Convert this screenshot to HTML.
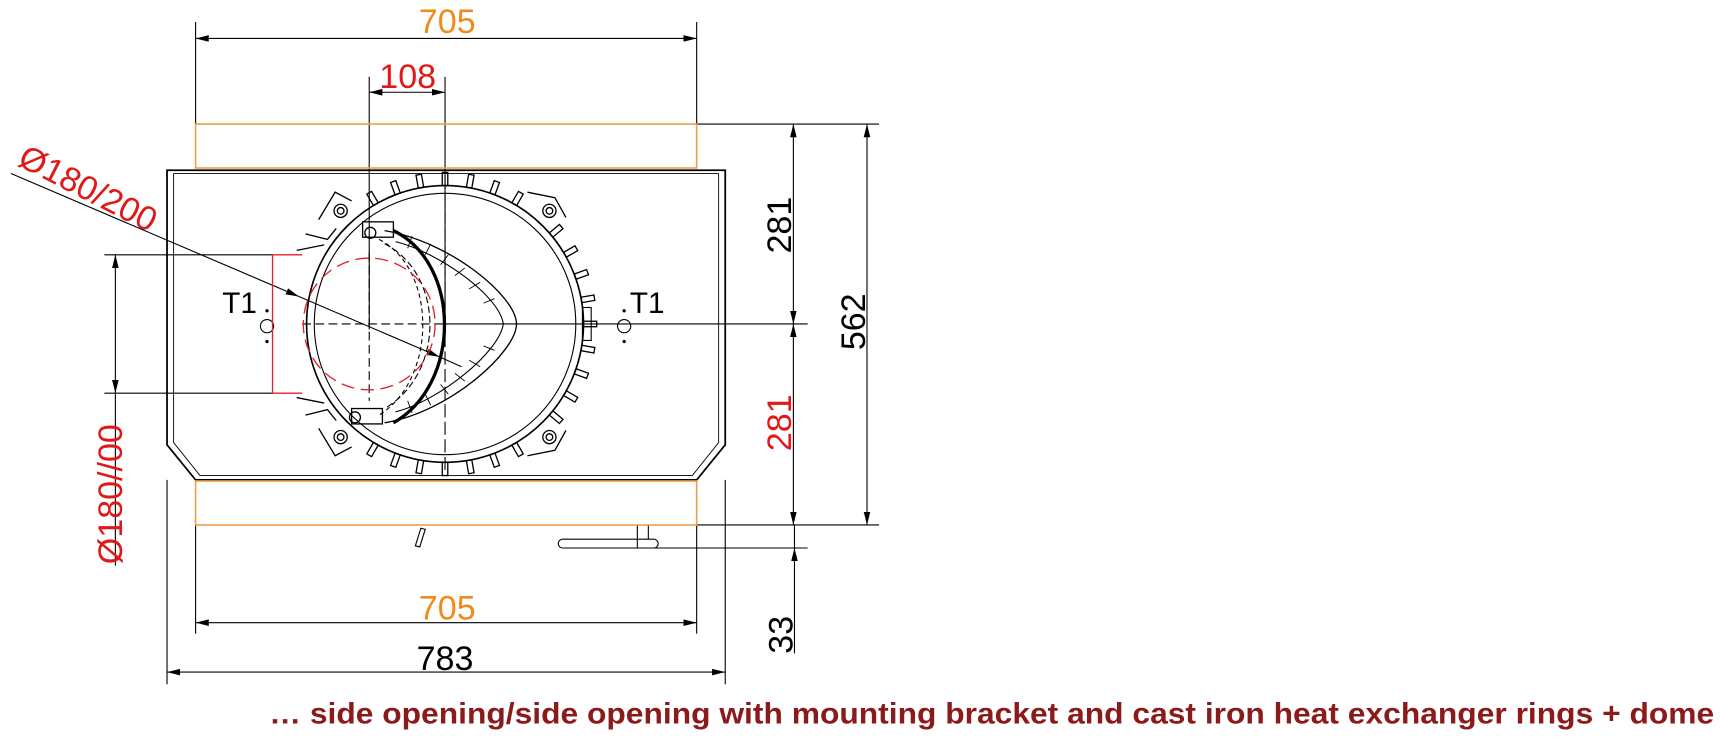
<!DOCTYPE html>
<html><head><meta charset="utf-8"><style>
html,body{margin:0;padding:0;background:#fff;}
svg{display:block;}
text{font-family:"Liberation Sans",Arial,sans-serif;}
</style></head><body>
<svg width="1723" height="738" viewBox="0 0 1568 672" preserveAspectRatio="none" xmlns="http://www.w3.org/2000/svg">
<defs>
<marker id="a" viewBox="0 0 12 6" refX="12" refY="3" markerWidth="12" markerHeight="6" orient="auto-start-reverse" markerUnits="userSpaceOnUse"><path d="M0,0 L12,3 L0,6z" fill="#000"/></marker>
</defs>
<g fill="none" stroke="#000" stroke-width="1">
<line x1="178" y1="20" x2="178" y2="113"/><line x1="634" y1="20" x2="634" y2="113"/>
<line x1="178" y1="35" x2="634" y2="35" marker-start="url(#a)" marker-end="url(#a)"/>
<line x1="336" y1="70" x2="336" y2="300"/>
<line x1="405" y1="70" x2="405" y2="300"/>
<line x1="336" y1="84" x2="405" y2="84" marker-start="url(#a)" marker-end="url(#a)"/>
<path d="M152 155 L660 155 L660 405 L634 437 L178 437 L152 405 Z" stroke-width="1.6"/>
<path d="M158 158 L654 158 L654 403 L630 433 L182 433 L158 403 Z" stroke-width="0.8"/>
<line x1="634" y1="113" x2="800" y2="113"/>
<line x1="722" y1="113" x2="722" y2="295" marker-start="url(#a)" marker-end="url(#a)"/>
<line x1="722" y1="295" x2="722" y2="478" marker-start="url(#a)" marker-end="url(#a)"/>
<line x1="789" y1="113" x2="789" y2="478" marker-start="url(#a)" marker-end="url(#a)"/>
<line x1="405" y1="295" x2="735" y2="295"/>
<line x1="634" y1="478" x2="800" y2="478"/>
<line x1="590" y1="499" x2="735" y2="499"/>
<line x1="723" y1="595" x2="723" y2="499" marker-end="url(#a)"/>
<line x1="723" y1="478" x2="723" y2="499"/>
<line x1="634" y1="478" x2="634" y2="577"/>
<line x1="178" y1="478" x2="178" y2="577"/>
<line x1="178" y1="567" x2="634" y2="567" marker-start="url(#a)" marker-end="url(#a)"/>
<line x1="152" y1="437" x2="152" y2="623"/><line x1="660" y1="437" x2="660" y2="623"/>
<line x1="152" y1="612" x2="660" y2="612" marker-start="url(#a)" marker-end="url(#a)"/>
<rect x="508" y="491" width="91" height="8" rx="4"/>
<line x1="580" y1="478" x2="580" y2="499"/><line x1="590" y1="478" x2="590" y2="491"/>
<path d="M378 497 l5 -16 l4 1 l-5 16 z"/>
<line x1="95" y1="232" x2="248" y2="232"/><line x1="95" y1="358" x2="248" y2="358"/>
<line x1="105" y1="232" x2="105" y2="358" marker-start="url(#a)" marker-end="url(#a)"/>
<line x1="105" y1="358" x2="105" y2="515"/>
<line x1="10" y1="158" x2="272" y2="270" marker-end="url(#a)"/>
<line x1="272" y1="270" x2="400" y2="325" marker-end="url(#a)"/>
<line x1="400" y1="325" x2="420" y2="334"/>
<circle cx="405" cy="295" r="126" stroke-width="1.5"/>
<circle cx="405" cy="295" r="119"/>
<g stroke-width="1.2">
<g id="t"><rect x="531" y="292.5" width="12" height="5"/></g>
<use href="#t" transform="rotate(-100 405 295)"/><use href="#t" transform="rotate(-90 405 295)"/><use href="#t" transform="rotate(-80 405 295)"/><use href="#t" transform="rotate(-70 405 295)"/><use href="#t" transform="rotate(-60 405 295)"/><use href="#t" transform="rotate(-40 405 295)"/><use href="#t" transform="rotate(-30 405 295)"/><use href="#t" transform="rotate(-20 405 295)"/><use href="#t" transform="rotate(-10 405 295)"/><use href="#t" transform="rotate(10 405 295)"/><use href="#t" transform="rotate(20 405 295)"/><use href="#t" transform="rotate(30 405 295)"/><use href="#t" transform="rotate(40 405 295)"/><use href="#t" transform="rotate(60 405 295)"/><use href="#t" transform="rotate(70 405 295)"/><use href="#t" transform="rotate(80 405 295)"/><use href="#t" transform="rotate(90 405 295)"/><use href="#t" transform="rotate(100 405 295)"/><use href="#t" transform="rotate(110 405 295)"/><use href="#t" transform="rotate(-110 405 295)"/><use href="#t" transform="rotate(-120 405 295)"/><use href="#t" transform="rotate(120 405 295)"/>
</g>
<rect x="530" y="280" width="8" height="30"/>
<g stroke-width="1.2">
<circle cx="310" cy="192" r="6"/><circle cx="310" cy="192" r="3"/>
<circle cx="310" cy="398" r="6"/><circle cx="310" cy="398" r="3"/>
<circle cx="500" cy="192" r="6"/><circle cx="500" cy="192" r="3"/>
<circle cx="500" cy="398" r="6"/><circle cx="500" cy="398" r="3"/>
<path d="M290 200 l15 -25 l15 8 M278 213 l20 5 l8 -10 M270 228 l25 -5"/>
<path d="M290 390 l15 25 l15 -8 M278 378 l20 -5 l8 10 M270 362 l25 5"/>
<path d="M480 175 l25 5 l10 18 M480 415 l25 -5 l10 -18"/>
<circle cx="337" cy="212" r="5"/><circle cx="323" cy="380" r="5"/>
<rect x="330" y="202" width="28" height="14"/><rect x="320" y="372" width="28" height="14"/>
</g>
<path d="M350 210 C410 220 470 270 470 295 C470 320 410 375 350 385" stroke-width="1.2"/>
<path d="M360 220 C400 230 455 270 458 295 C455 320 400 365 360 375" />
<path d="M358 210 C420 240 420 350 358 385" stroke-width="3"/>
<path d="M350 222 C405 250 405 340 350 372" stroke-dasharray="6 3"/>
<path d="M345 218 C398 245 398 345 345 378" stroke-dasharray="4 3"/>
<g stroke-width="0.8">
<line x1="375" y1="215" x2="371" y2="226"/><line x1="392" y1="222" x2="387" y2="232"/><line x1="408" y1="232" x2="401" y2="241"/><line x1="423" y1="244" x2="414" y2="251"/><line x1="437" y1="257" x2="427" y2="263"/><line x1="450" y1="272" x2="440" y2="276"/>
<line x1="375" y1="376" x2="371" y2="365"/><line x1="392" y1="369" x2="387" y2="359"/><line x1="408" y1="359" x2="401" y2="350"/><line x1="423" y1="347" x2="414" y2="340"/><line x1="437" y1="334" x2="427" y2="328"/><line x1="450" y1="319" x2="440" y2="315"/>
</g>
<line x1="275" y1="295" x2="405" y2="295" stroke-dasharray="8 4"/>
<line x1="336" y1="230" x2="336" y2="365" stroke-dasharray="8 4"/>
<line x1="405" y1="160" x2="405" y2="430" stroke-dasharray="12 4"/>
<circle cx="243" cy="297" r="6"/><circle cx="568" cy="297" r="6"/>
</g>
<g fill="#000"><circle cx="243" cy="283" r="1.5"/><circle cx="243" cy="311" r="1.5"/><circle cx="568" cy="283" r="1.5"/><circle cx="568" cy="311" r="1.5"/></g>
<g fill="none" stroke="#f0a050" stroke-width="1.5">
<rect x="178" y="113" width="456" height="40"/>
<rect x="178" y="438" width="456" height="40"/>
</g>
<g fill="none" stroke="#e0202a" stroke-width="1.2">
<path d="M275 232 L248 232 L248 358 L275 358"/>
<circle cx="336" cy="295" r="60" stroke-dasharray="12 6"/>
</g>
<g font-size="31" text-anchor="middle">
<text x="407" y="30" fill="#f08a1c">705</text>
<text x="407" y="564" fill="#f08a1c">705</text>
<text x="371" y="80" fill="#e01818">108</text>
<text x="405" y="610" fill="#000">783</text>
<text transform="translate(722,205) rotate(-90)" y="-2" fill="#000">281</text>
<text transform="translate(722,385) rotate(-90)" y="-2" fill="#e01818">281</text>
<text transform="translate(789,293) rotate(-90)" y="-2" fill="#000">562</text>
<text transform="translate(723,578) rotate(-90)" y="-2" fill="#000">33</text>
<text transform="translate(100,450) rotate(-90)" y="11" fill="#e01818">Ø180//00</text>
<text transform="translate(80,172) rotate(27)" y="10" fill="#e01818">Ø180/200</text>
<text x="218" y="285" fill="#000" font-size="27">T1</text>
<text x="589" y="285" fill="#000" font-size="27">T1</text>
</g>
<text x="245" y="659" font-size="27" font-weight="bold" fill="#8b1a1a" textLength="1315" lengthAdjust="spacingAndGlyphs">… side opening/side opening with mounting bracket and cast iron heat exchanger rings + dome</text>
</svg>
</body></html>
